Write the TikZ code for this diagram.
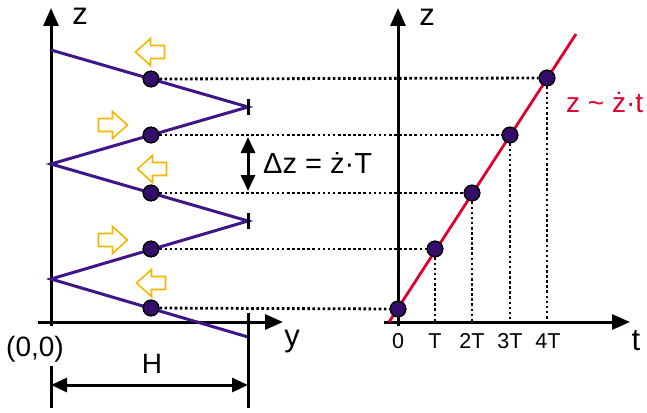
\documentclass[tikz,border=0pt]{standalone}
\usepackage{fontspec}
\setmainfont{Liberation Sans}
\usetikzlibrary{arrows.meta}
\definecolor{zig}{RGB}{62,22,135}
\definecolor{dotc}{RGB}{52,12,105}
\definecolor{yel}{RGB}{245,182,0}
\definecolor{redl}{RGB}{225,0,45}
\tikzset{
  axis/.style={line width=3pt,-{Triangle[length=18pt,width=15pt]}},
  zz/.style={zig,line width=3pt},
  dotn/.style={circle,fill=dotc,draw=black,line width=1.3pt,minimum size=15.5pt,inner sep=0pt},
  dotl/.style={line width=2.8pt,dash pattern=on 2.6pt off 2.5pt},
  lbl/.style={font=\fontsize{28}{30}\selectfont,inner sep=0pt},
  ticklbl/.style={font=\fontsize{21.5}{23}\selectfont,inner sep=0pt},
  dimarr/.style={line width=3pt,{Triangle[length=16pt,width=14pt]}-{Triangle[length=16pt,width=14pt]}},
  blk/.style={line width=3pt},
  larr/.pic={\draw[yel,line width=1.6pt,line join=miter] (-14.5,0) -- (0.5,-13.5) -- (0.5,-6.5) -- (14.5,-6.5) -- (14.5,6.5) -- (0.5,6.5) -- (0.5,13.5) -- cycle;},
  rarr/.pic={\draw[yel,line width=1.6pt,line join=miter] (14.5,0) -- (-0.5,-13.5) -- (-0.5,-6.5) -- (-14.5,-6.5) -- (-14.5,6.5) -- (-0.5,6.5) -- (-0.5,13.5) -- cycle;}
}
\begin{document}
\begin{tikzpicture}[x=1pt,y=-1pt]
\useasboundingbox (0,0) rectangle (647,412);
% left axes
\coordinate (lzb) at (51,326);
\coordinate (lzt) at (51,8);
\coordinate (lyl) at (38,322);
\coordinate (lyr) at (283,322);
\draw[axis] (lzb) -- (lzt);
\draw[axis] (lyl) -- (lyr);
\node[lbl,anchor=base,font=\fontsize{31}{33}\selectfont] (lz) at (80,25) {z};
\node[lbl,anchor=base,font=\fontsize{31}{33}\selectfont] (ly) at (292,346) {y};
\node[lbl,anchor=base] (org) at (35,356) {(0,0)};
% right axes
\coordinate (rzb) at (398,326);
\coordinate (rzt) at (398,8);
\coordinate (rtl) at (384,322);
\coordinate (rtr) at (630,322);
\draw[axis] (rzb) -- (rzt);
\draw[axis] (rtl) -- (rtr);
\node[lbl,anchor=base,font=\fontsize{31}{33}\selectfont] (rz) at (427,26) {z};
\node[lbl,anchor=base,font=\fontsize{31}{33}\selectfont] (tl) at (636,350) {t};
% zigzag vertices
\coordinate (A0) at (51,50);
\coordinate (B1) at (248,107);
\coordinate (A1) at (51,164);
\coordinate (B2) at (248,221);
\coordinate (A2) at (51,279);
\coordinate (B3) at (248,337);
% dots
\node[dotn] (R0) at (398,309) {};
\node[dotn] (R1) at (435,249) {};
\node[dotn] (R2) at (472,193) {};
\node[dotn] (R3) at (510,135) {};
\node[dotn] (R4) at (547,78) {};
\node[dotn] (L1) at (151,79) {};
\node[dotn] (L2) at (151,135) {};
\node[dotn] (L3) at (151,193) {};
\node[dotn] (L4) at (151,249) {};
\node[dotn] (L5) at (151,308) {};
% red line
\coordinate (rb) at (389,322);
\coordinate (rt) at (576,34);
\draw[redl,line width=2.8pt] (rb) -- (rt);
% dotted horizontals
\draw[dotl] (L1) -- (R4);
\draw[dotl] (L2) -- (R3);
\draw[dotl] (L3) -- (R2);
\draw[dotl] (L4) -- (R1);
\draw[dotl] (L5) -- (R0);
% dotted verticals
\draw[dotl] (R1) -- (R1 |- rtl);
\draw[dotl] (R2) -- (R2 |- rtl);
\draw[dotl] (R3) -- (R3 |- rtl);
\draw[dotl] (R4) -- (R4 |- rtl);
% zigzag
\draw[zz,line join=miter] (A0) -- (B1) -- (A1) -- (B2) -- (A2) -- (B3);
\draw[blk] ([yshift=-8pt]B1) -- ([yshift=8pt]B1);
\draw[blk] ([yshift=-8pt]B2) -- ([yshift=8pt]B2);
% redraw dots on top
\foreach \n in {R0,R1,R2,R3,R4,L1,L2,L3,L4,L5}{\node[dotn] at (\n) {};}
% tick labels
\node[ticklbl,anchor=base] (t0) at (398,348) {0};
\node[ticklbl,anchor=base] (t1) at (435,348) {T};
\node[ticklbl,anchor=base] (t2) at (472,348) {2T};
\node[ticklbl,anchor=base] (t3) at (510,348) {3T};
\node[ticklbl,anchor=base] (t4) at (548,348) {4T};
% red label
\node[lbl,anchor=base west,text=redl] (law) at (566,112) {z {\char"7E} ż·t};
% delta z
\coordinate (dzt) at (248,137);
\coordinate (dzb) at (248,191);
\draw[dimarr] (dzt) -- (dzb);
\node[lbl,anchor=base west,font=\fontsize{29}{31}\selectfont] (dzl) at (263,173) {Δz = ż·T};
% yellow arrows
\pic at (150,52) {larr};
\pic at (113,125) {rarr};
\pic at (152,169) {larr};
\pic at (113,240) {rarr};
\pic at (151,283) {larr};
% H dimension
\coordinate (h1t) at (51,366);
\coordinate (h1b) at (51,408);
\coordinate (h2t) at (248,313);
\coordinate (h2b) at (248,408);
\draw[blk] (h1t) -- (h1b);
\draw[blk] (h2t) -- (h2b);
\coordinate (ha) at (51,385);
\coordinate (hb) at (248,385);
\draw[dimarr] (ha) -- (hb);
\node[lbl,anchor=base] (H) at (152,373) {H};
\end{tikzpicture}
\end{document}
